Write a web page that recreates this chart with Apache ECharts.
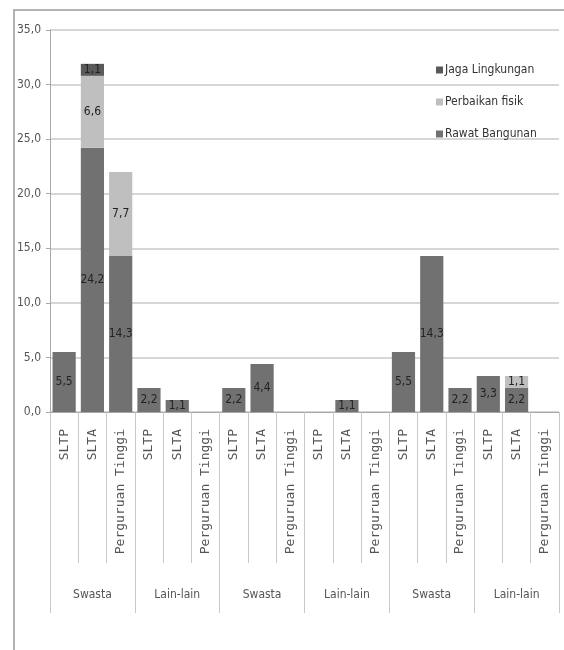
<!DOCTYPE html>
<html>
<head>
<meta charset="utf-8">
<script src="https://cdn.jsdelivr.net/npm/echarts@6/dist/echarts.min.js"></script>
<style>
  html, body { margin: 0; padding: 0; background: #fff; }
  #chart { width: 564px; height: 650px; }
</style>
</head>
<body>
<div id="chart"></div>
<script>
// School level inside each group, repeated for the six groups
const levels = ['SLTP', 'SLTA', 'Perguruan Tinggi',
                'SLTP', 'SLTA', 'Perguruan Tinggi',
                'SLTP', 'SLTA', 'Perguruan Tinggi',
                'SLTP', 'SLTA', 'Perguruan Tinggi',
                'SLTP', 'SLTA', 'Perguruan Tinggi',
                'SLTP', 'SLTA', 'Perguruan Tinggi'];
const groups = ['Swasta', 'Lain-lain', 'Swasta', 'Lain-lain', 'Swasta', 'Lain-lain'];

// Stacked series (bottom to top)
const rawatBangunan   = [5.5, 24.2, 14.3, 2.2, 1.1, 0, 2.2, 4.4, 0, 0, 1.1, 0, 5.5, 14.3, 2.2, 3.3, 2.2, 0];
const perbaikanFisik  = [0, 6.6, 7.7, 0, 0, 0, 0, 0, 0, 0, 0, 0, 0, 0, 0, 0, 1.1, 0];
const jagaLingkungan  = [0, 1.1, 0, 0, 0, 0, 0, 0, 0, 0, 0, 0, 0, 0, 0, 0, 0, 0];

const yTicks = { min: 0, max: 35, step: 5 };

const narrow = "'Liberation Sans Narrow', 'DejaVu Sans Condensed', sans-serif";

function comma(v, d) { return v.toFixed(d).replace('.', ','); }

const valueLabel = {
  show: true,
  position: 'inside',
  fontFamily: narrow,
  fontSize: 12,
  color: '#222',
  formatter: p => (p.value > 0 ? comma(p.value, 1) : '')
};

function bar(name, data, color) {
  return {
    name, type: 'bar', stack: 'total', data,
    xAxisIndex: 0,
    barCategoryGap: '18%',
    itemStyle: { color },
    label: valueLabel
  };
}

const chart = echarts.init(document.getElementById('chart'), null, { renderer: 'canvas' });
chart.setOption({
  animation: false,
  backgroundColor: '#fff',
  graphic: [{
    type: 'rect',
    shape: { x: 14, y: 10, width: 700, height: 800 },
    style: { fill: 'none', stroke: '#9a9a9a', lineWidth: 1.5 },
    silent: true
  }],
  grid: { left: 50, right: 5, top: 30, bottom: 238, containLabel: false },
  legend: {
    orient: 'vertical',
    left: 431,
    top: 59,
    itemWidth: 7,
    itemHeight: 7,
    itemGap: 20,
    icon: 'rect',
    data: ['Jaga Lingkungan', 'Perbaikan fisik', 'Rawat Bangunan'],
    textStyle: { fontFamily: narrow, fontSize: 12, color: '#333', padding: [0, 0, 0, -3] }
  },
  xAxis: [{
    type: 'category',
    data: levels,
    position: 'bottom',
    axisLine: { show: true, lineStyle: { color: '#a8a8a8' } },
    axisTick: { show: true, length: 151, lineStyle: { color: '#c8c8c8' } },
    axisLabel: {
      rotate: 90,
      margin: 17,
      interval: 0,
      fontFamily: "'DejaVu Sans Mono', monospace",
      fontSize: 13,
      color: '#555'
    }
  }, {
    type: 'category',
    data: groups,
    position: 'bottom',
    axisLine: { show: false },
    axisTick: { show: true, length: 201, lineStyle: { color: '#c8c8c8' } },
    axisLabel: {
      margin: 177,
      interval: 0,
      fontFamily: narrow,
      fontSize: 12,
      color: '#555'
    }
  }],
  yAxis: {
    type: 'value',
    min: yTicks.min,
    max: yTicks.max,
    interval: yTicks.step,
    axisLine: { show: true, lineStyle: { color: '#a8a8a8' } },
    axisTick: { show: true, length: 4, lineStyle: { color: '#a8a8a8' } },
    splitLine: { show: true, lineStyle: { color: '#c8c8c8', width: 1.5 } },
    axisLabel: {
      margin: 9,
      fontFamily: narrow,
      fontSize: 12,
      color: '#555',
      formatter: v => comma(v, 1)
    }
  },
  series: [
    bar('Rawat Bangunan', rawatBangunan, '#717171'),
    bar('Perbaikan fisik', perbaikanFisik, '#bfbfbf'),
    bar('Jaga Lingkungan', jagaLingkungan, '#5a5a5a')
  ]
});
</script>
</body>
</html>
